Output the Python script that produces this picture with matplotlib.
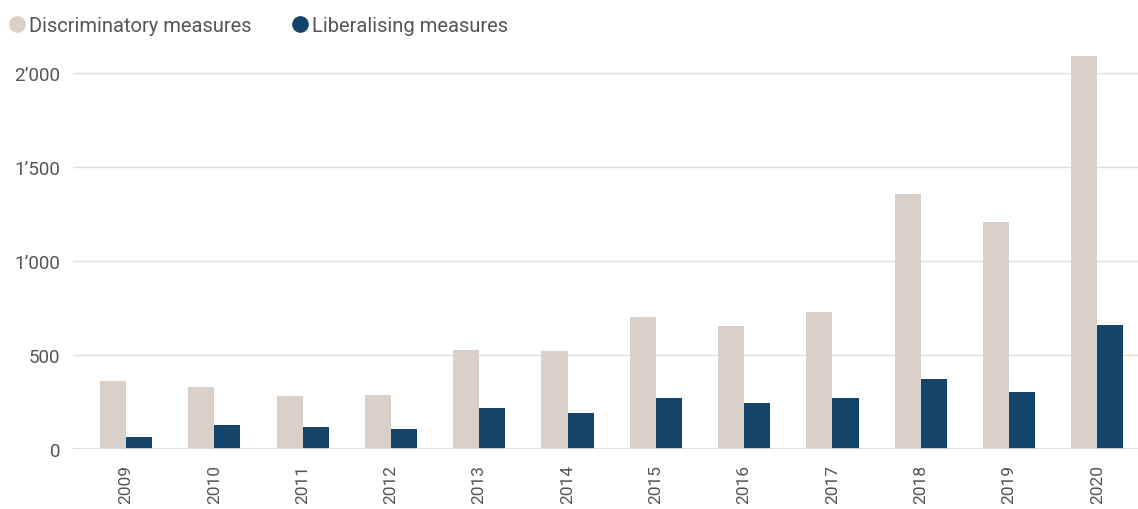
import matplotlib.pyplot as plt
import numpy as np
from matplotlib.ticker import FuncFormatter
from matplotlib.lines import Line2D

years = ["2009", "2010", "2011", "2012", "2013", "2014",
         "2015", "2016", "2017", "2018", "2019", "2020"]
discriminatory = [362, 330, 282, 287, 525, 520, 700, 652, 729, 1358, 1210, 2090]
liberalising = [64, 128, 117, 106, 217, 191, 270, 244, 271, 372, 303, 660]

col_disc = "#d8d0c9"
col_lib = "#15446b"
col_text = "#555555"

plt.rcParams['font.family'] = ['Roboto', 'DejaVu Sans']

fig = plt.figure(figsize=(11.38, 5.10), dpi=100)
ax = fig.add_axes([73 / 1138, 60 / 510, 1 - 73 / 1138, 400 / 510])

x = np.arange(len(years))
w = 0.295
ax.bar(x - w / 2, discriminatory, w, color=col_disc, zorder=2)
ax.bar(x + w / 2, liberalising, w, color=col_lib, zorder=2)

ax.set_xlim(-0.6, 11.46)
ax.set_ylim(0, 2128)
ax.set_yticks([0, 500, 1000, 1500, 2000])
ax.yaxis.set_major_formatter(FuncFormatter(
    lambda v, p: f"{int(v):,}".replace(",", "\u2019")))
ax.grid(axis="y", color="#e2ddd6", linewidth=1, zorder=0)
ax.axhline(0, color="#e2ddd6", linewidth=2, zorder=3)

ax.set_xticks(x)
ax.set_xticklabels(years, rotation=90)
ax.tick_params(axis="both", length=0, labelcolor=col_text)
ax.tick_params(axis="y", pad=9, labelsize=13.5)
ax.tick_params(axis="x", pad=11, labelsize=12.5)
for s in ax.spines.values():
    s.set_visible(False)

handles = [
    Line2D([], [], marker="o", linestyle="", markersize=11, color=col_disc),
    Line2D([], [], marker="o", linestyle="", markersize=11, color=col_lib),
]
fig.legend(handles, ["Discriminatory measures", "Liberalising measures"],
           loc="upper left", bbox_to_anchor=(-0.006, 0.995), ncol=2, frameon=False,
           fontsize=14.5, labelcolor=col_text, handletextpad=0.1,
           columnspacing=1.9, handlelength=1.0, borderaxespad=0.3)

plt.savefig("out.png", dpi=100)
